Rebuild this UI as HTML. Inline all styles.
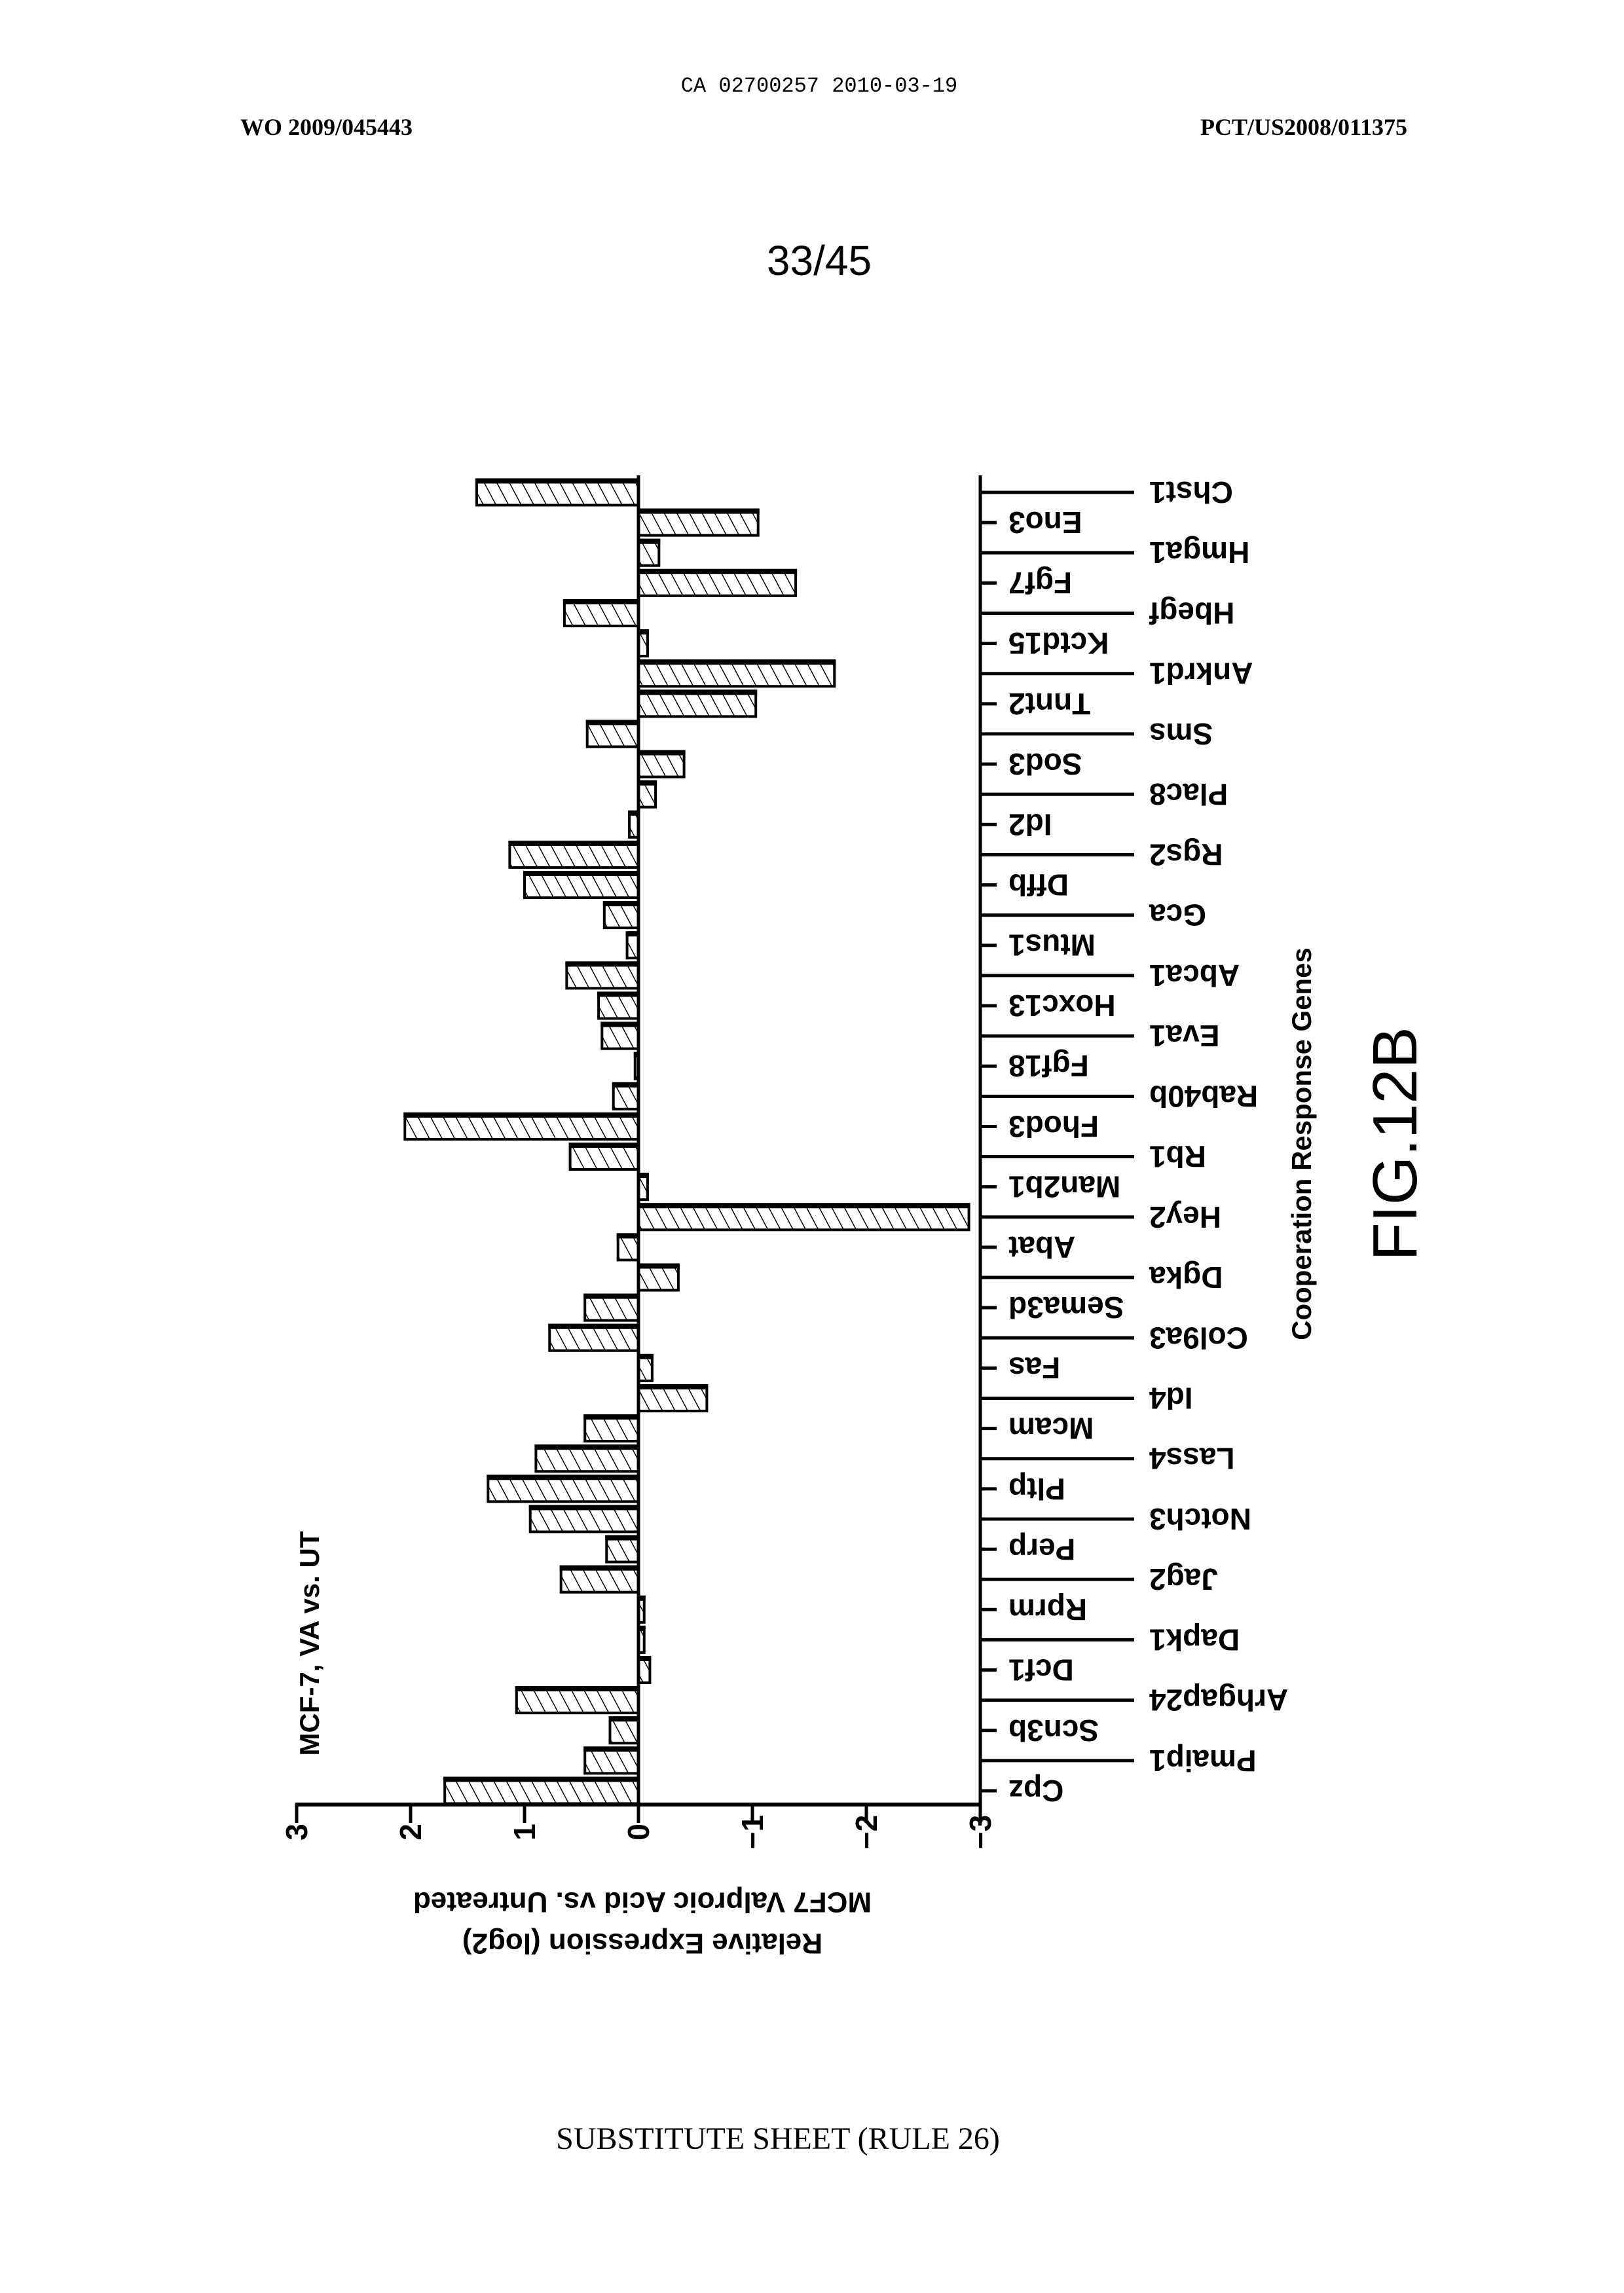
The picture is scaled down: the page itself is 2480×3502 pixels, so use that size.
<!DOCTYPE html>
<html><head><meta charset="utf-8">
<style>
html,body{margin:0;padding:0;background:#fff;}
svg{display:block;}
.hdr{font-family:"Liberation Mono",monospace;}
.ser{font-family:"Liberation Serif",serif;}
.nar{font-family:"Liberation Sans Narrow","Liberation Sans",sans-serif;font-weight:bold;}
</style></head>
<body>
<svg width="2480" height="3502" viewBox="0 0 2480 3502" xmlns="http://www.w3.org/2000/svg">
<defs>
<pattern id="hatch" patternUnits="userSpaceOnUse" width="17" height="17" patternTransform="rotate(-28)">
<line x1="0" y1="0" x2="0" y2="17" stroke="#000" stroke-width="3"/>
</pattern>
</defs>
<text class="hdr" x="1251" y="140" font-size="32" text-anchor="middle">CA 02700257 2010-03-19</text>
<text class="ser" x="367" y="206" font-size="36" font-weight="bold">WO 2009/045443</text>
<text class="ser" x="2149" y="206" font-size="36" font-weight="bold" text-anchor="end">PCT/US2008/011375</text>
<text font-family="Liberation Sans Narrow, Liberation Sans, sans-serif" x="1251" y="420" font-size="64" text-anchor="middle">33/45</text>
<g id="chart"></g>
<text class="nar" font-size="42" transform="translate(487,2510) rotate(-90)" text-anchor="middle">MCF-7, VA vs. UT</text>
<text class="nar" font-size="44" transform="translate(981,2905) rotate(180)" text-anchor="middle" dominant-baseline="central">MCF7 Valproic Acid vs. Untreated</text>
<text class="nar" font-size="44" transform="translate(981,2968) rotate(180)" text-anchor="middle" dominant-baseline="central">Relative Expression (log2)</text>
<text class="nar" font-size="42" transform="translate(2002,1747) rotate(-90)" text-anchor="middle">Cooperation Response Genes</text>
<text font-family="Liberation Sans, sans-serif" font-size="96" transform="translate(2163,1747) rotate(-90)" text-anchor="middle">FIG.12B</text>
<text class="ser" x="1188" y="3282" font-size="48" text-anchor="middle">SUBSTITUTE SHEET (RULE 26)</text>
</svg>
<script>
const genes=["Cpz","Pmaip1","Scn3b","Arhgap24","Dcf1","Dapk1","Rprm","Jag2","Perp","Notch3","Pltp","Lass4","Mcam","Id4","Fas","Col9a3","Sema3d","Dgka","Abat","Hey2","Man2b1","Rb1","Fhod3","Rab40b","Fgf18","Eva1","Hoxc13","Abca1","Mtus1","Gca","Dffb","Rgs2","Id2","Plac8","Sod3","Sms","Tnnt2","Ankrd1","Kctd15","Hbegf","Fgf7","Hmga1","Eno3","Chst1"];
const values=[1.70,0.47,0.25,1.07,-0.1,-0.05,-0.05,0.68,0.28,0.95,1.32,0.9,0.47,-0.6,-0.12,0.78,0.47,-0.35,0.18,-2.9,-0.08,0.6,2.05,0.22,0.03,0.32,0.35,0.63,0.1,0.3,1.0,1.13,0.08,-0.15,-0.4,0.45,-1.03,-1.72,-0.08,0.65,-1.38,-0.18,-1.05,1.42];
const ticks=[3,2,1,0,-1,-2,-3];
const tickLabels=["3","2","1","0","\u22121","\u22122","\u22123"];
const NS="http://www.w3.org/2000/svg";
const g=document.getElementById('chart');
const X=v=>975-174*v;
const Y=i=>2735-i*(2735-752)/(genes.length-1);
const axisY=2756, topY=726, catAxisX=X(-3);
function mk(t,a){const e=document.createElementNS(NS,t);for(const k in a)e.setAttribute(k,a[k]);g.appendChild(e);return e;}
values.forEach((v,i)=>{
 const y=Y(i)-19.5,x0=Math.min(X(0),X(v)),w=Math.abs(X(v)-X(0));
 const r=mk('rect',{x:x0,y:y,width:w,height:39,fill:'url(#hatch)',stroke:'#000','stroke-width':4});
 
 
 const t=mk('rect',{x:x0-2,y:y-2,width:w+4,height:8,fill:'#000'});
 
 
});
let l=mk('line',{x1:X(0),y1:topY,x2:X(0),y2:axisY,stroke:'#000','stroke-width':5});


l=mk('line',{x1:catAxisX,y1:topY,x2:catAxisX,y2:axisY,stroke:'#000','stroke-width':5});


l=mk('line',{x1:X(3)-2,y1:axisY,x2:X(-3)+2,y2:axisY,stroke:'#000','stroke-width':6});


ticks.forEach((v,i)=>{
 const tk=mk('line',{x1:X(v),y1:axisY,x2:X(v),y2:axisY+28,stroke:'#000','stroke-width':5});
 
 
 const tx=mk('text',{transform:`translate(${X(v)+16},${axisY+42}) rotate(-90)`,'text-anchor':'middle','font-size':46,'class':'nar'});
 tx.textContent=tickLabels[i];
 
 
});
genes.forEach((n,i)=>{
 const y=Y(i),long=i%2===1;
 const tk=mk('line',{x1:catAxisX,y1:y,x2:long?1732:1522,y2:y,stroke:'#000','stroke-width':5});
 
 
 const lx=long?1755:1540;
 const tx=mk('text',{transform:`translate(${lx},${y}) rotate(180)`,'text-anchor':'end','dominant-baseline':'central','font-size':46,'class':'nar'});
 tx.textContent=n;
 
 
});
</script>
</body></html>
